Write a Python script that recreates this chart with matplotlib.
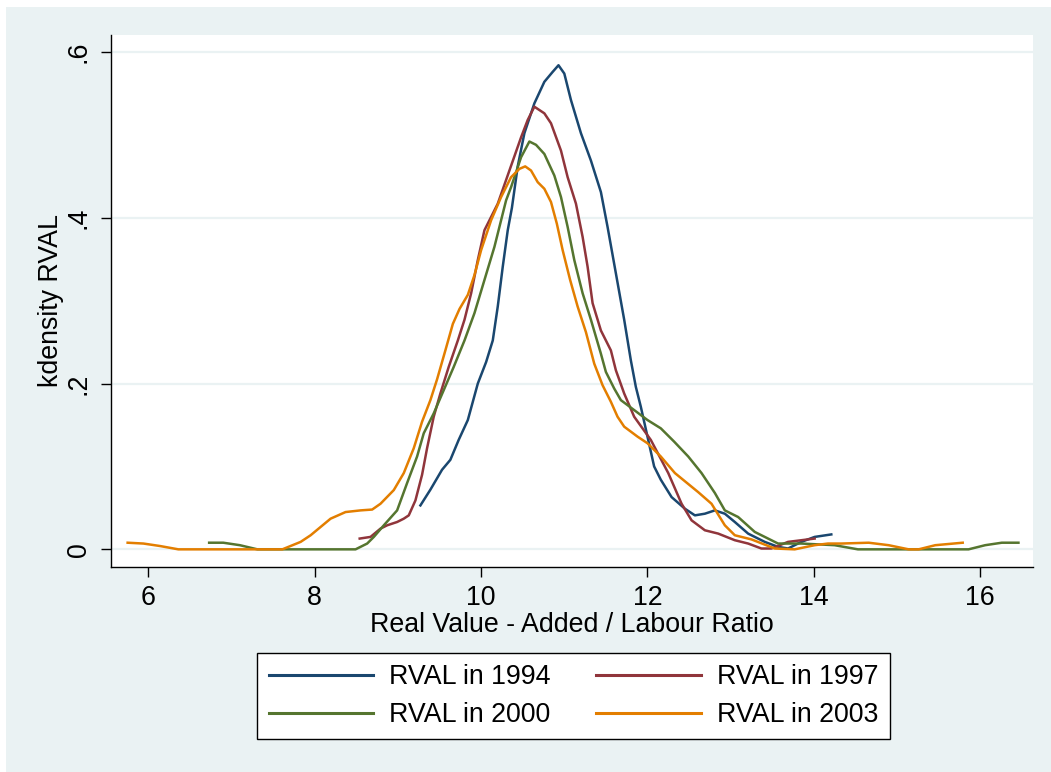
import matplotlib
matplotlib.use("Agg")
import matplotlib.pyplot as plt
from matplotlib.patches import Rectangle

plt.rcParams['font.family'] = ['Liberation Sans', 'DejaVu Sans']

# ---- data ----
x1994 = [9.27, 9.39, 9.53, 9.63, 9.73, 9.84, 9.96, 10.06, 10.14, 10.20, 10.26, 10.32, 10.37, 10.44,
         10.52, 10.64, 10.76, 10.86, 10.93, 11.00, 11.08, 11.20, 11.32, 11.44, 11.52, 11.62, 11.72,
         11.80, 11.86, 11.92, 12.00, 12.08, 12.16, 12.29, 12.45, 12.57, 12.69, 12.81, 12.93, 13.05,
         13.21, 13.41, 13.57, 13.69, 13.85, 14.01, 14.21]
y1994 = [0.053, 0.072, 0.096, 0.108, 0.132, 0.156, 0.200, 0.226, 0.252, 0.293, 0.341, 0.385, 0.412,
         0.462, 0.502, 0.538, 0.564, 0.576, 0.584, 0.574, 0.542, 0.502, 0.469, 0.431, 0.389, 0.333,
         0.277, 0.228, 0.196, 0.172, 0.136, 0.100, 0.084, 0.063, 0.049, 0.041, 0.043, 0.047, 0.043,
         0.033, 0.019, 0.009, 0.003, 0.001, 0.009, 0.015, 0.018]

x1997 = [8.54, 8.67, 8.79, 8.87, 8.99, 9.07, 9.13, 9.21, 9.29, 9.35, 9.43, 9.51, 9.61, 9.72, 9.80,
         9.88, 9.96, 10.04, 10.12, 10.20, 10.34, 10.48, 10.56, 10.64, 10.76, 10.84, 10.96, 11.04,
         11.14, 11.22, 11.28, 11.34, 11.44, 11.56, 11.62, 11.72, 11.84, 12.04, 12.25, 12.41, 12.53,
         12.69, 12.85, 13.05, 13.21, 13.37, 13.49, 13.69, 14.01]
y1997 = [0.013, 0.015, 0.025, 0.029, 0.033, 0.037, 0.041, 0.059, 0.090, 0.122, 0.160, 0.188, 0.220,
         0.252, 0.277, 0.309, 0.349, 0.385, 0.401, 0.417, 0.457, 0.497, 0.518, 0.534, 0.526, 0.514,
         0.481, 0.449, 0.417, 0.377, 0.341, 0.297, 0.264, 0.240, 0.216, 0.188, 0.160, 0.132, 0.092,
         0.055, 0.035, 0.023, 0.019, 0.011, 0.007, 0.001, 0.001, 0.009, 0.013]

x2000 = [6.73, 6.90, 7.10, 7.31, 8.49, 8.63, 8.71, 8.83, 8.99, 9.11, 9.23, 9.31, 9.43, 9.55, 9.67,
         9.80, 9.92, 10.04, 10.16, 10.24, 10.30, 10.36, 10.48, 10.58, 10.66, 10.76, 10.88, 10.96,
         11.04, 11.12, 11.22, 11.32, 11.44, 11.50, 11.60, 11.68, 11.84, 12.00, 12.16, 12.32, 12.49,
         12.65, 12.81, 12.93, 13.09, 13.29, 13.57, 13.85, 14.25, 14.53, 15.86, 16.06, 16.26, 16.46]
y2000 = [0.008, 0.008, 0.005, 0.0, 0.0, 0.007, 0.015, 0.029, 0.047, 0.080, 0.112, 0.140, 0.164,
         0.192, 0.220, 0.252, 0.285, 0.325, 0.365, 0.397, 0.421, 0.437, 0.473, 0.492, 0.488, 0.477,
         0.451, 0.425, 0.389, 0.349, 0.309, 0.277, 0.236, 0.214, 0.194, 0.180, 0.168, 0.156, 0.146,
         0.130, 0.112, 0.092, 0.068, 0.047, 0.039, 0.021, 0.007, 0.007, 0.005, 0.0, 0.0, 0.005,
         0.008, 0.008]

x2003 = [5.75, 5.94, 6.14, 6.36, 7.61, 7.83, 7.95, 8.19, 8.37, 8.55, 8.69, 8.79, 8.95, 9.07, 9.19,
         9.29, 9.39, 9.47, 9.57, 9.66, 9.74, 9.84, 9.92, 10.00, 10.12, 10.24, 10.36, 10.46, 10.53,
         10.60, 10.68, 10.76, 10.84, 10.91, 10.98, 11.07, 11.16, 11.26, 11.36, 11.46, 11.56, 11.64,
         11.72, 11.88, 12.00, 12.16, 12.33, 12.61, 12.77, 12.93, 13.05, 13.25, 13.53, 13.77, 14.01,
         14.17, 14.33, 14.66, 14.90, 15.14, 15.26, 15.46, 15.79]
y2003 = [0.008, 0.007, 0.004, 0.0, 0.0, 0.009, 0.017, 0.037, 0.045, 0.047, 0.048, 0.055, 0.0715,
         0.092, 0.122, 0.154, 0.180, 0.205, 0.240, 0.272, 0.290, 0.307, 0.331, 0.361, 0.397, 0.425,
         0.449, 0.459, 0.462, 0.457, 0.443, 0.435, 0.419, 0.393, 0.361, 0.325, 0.293, 0.262, 0.224,
         0.198, 0.178, 0.160, 0.148, 0.136, 0.128, 0.112, 0.092, 0.069, 0.055, 0.029, 0.017, 0.012,
         0.001, 0.0, 0.005, 0.007, 0.007, 0.008, 0.005, 0.0, 0.0, 0.005, 0.008]

labels = ["RVAL in 1994", "RVAL in 1997", "RVAL in 2000", "RVAL in 2003"]
xticks = [6, 8, 10, 12, 14, 16]
yticks = [0, 0.2, 0.4, 0.6]
yticklabels = ["0", ".2", ".4", ".6"]

colors = ["#1a476f", "#90353b", "#55752f", "#e37e00"]
BG = "#eaf2f3"
FS = 19.3

W, H = 1051, 772
fig = plt.figure(figsize=(W / 100, H / 100), dpi=100, facecolor="white")
fig.patches.append(Rectangle((6 / W, 0), 1 - 6 / W, 1 - 7 / H, transform=fig.transFigure,
                             facecolor=BG, edgecolor="none", zorder=-10))

ax = fig.add_axes([111 / W, 1 - 567 / H, (1033 - 111) / W, (567 - 35) / H])
ax.set_facecolor("white")

series = [(x1994, y1994), (x1997, y1997), (x2000, y2000), (x2003, y2003)]
for (xs, ys), c, lab in zip(series, colors, labels):
    ax.plot(xs, ys, color=c, lw=1.8, label=lab, solid_joinstyle="round")

ax.set_xlim(5.55, 16.635)
ax.set_ylim(-0.0213, 0.6205)
ax.set_xticks(xticks)
ax.set_yticks(yticks)
ax.set_yticklabels(yticklabels, rotation=90, va="center")
ax.tick_params(axis="both", direction="out", length=7, width=1, colors="black", labelsize=FS)
ax.tick_params(axis="y", pad=7)
ax.tick_params(axis="x", pad=6)
ax.yaxis.grid(True, color=BG, lw=1.6)
ax.set_axisbelow(True)
for s in ["top", "right"]:
    ax.spines[s].set_visible(False)
for s in ["left", "bottom"]:
    ax.spines[s].set_linewidth(1.0)
    ax.spines[s].set_color("black")

ax.set_xlabel("Real Value - Added / Labour Ratio", fontsize=FS, labelpad=1)
ax.set_ylabel("kdensity RVAL", fontsize=FS, labelpad=1)

handles, labs = ax.get_legend_handles_labels()
order = [0, 2, 1, 3]
leg = fig.legend([handles[i] for i in order], [labs[i] for i in order],
                 loc="center", bbox_to_anchor=(573.5 / W, 1 - 696 / H), ncol=2,
                 fontsize=FS, frameon=True, fancybox=False, handlelength=3.9,
                 handletextpad=0.6, columnspacing=1.7, labelspacing=0.45,
                 borderpad=0.42, borderaxespad=0)
leg.get_frame().set_edgecolor("black")
leg.get_frame().set_linewidth(1.0)
leg.get_frame().set_facecolor("white")
leg.get_frame().set_alpha(1)
for line in leg.get_lines():
    line.set_linewidth(2.2)

fig.savefig("out.png", dpi=100, facecolor=fig.get_facecolor())
